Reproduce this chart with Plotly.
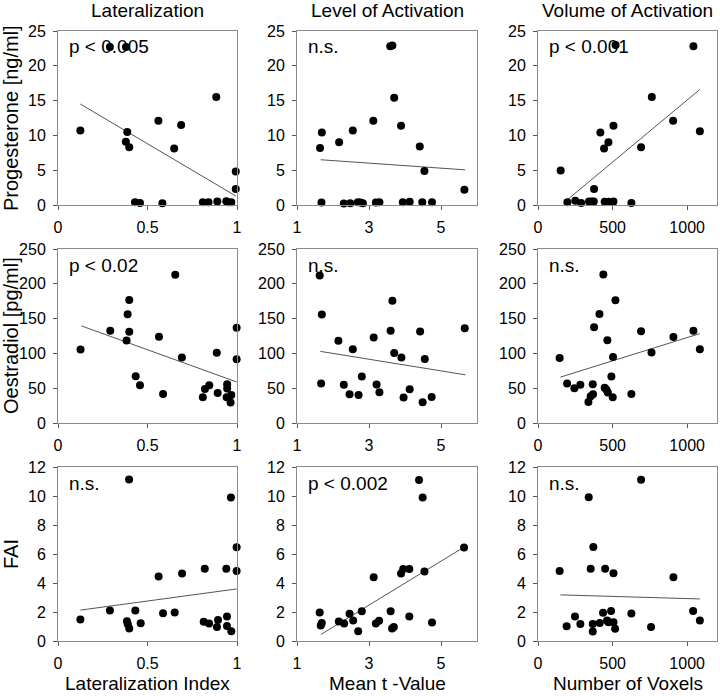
import plotly.graph_objects as go
from plotly.subplots import make_subplots

# column x-variables / row y-variables
col_titles = ["Lateralization", "Level of Activation", "Volume of Activation"]
x_titles = ["Lateralization Index", "Mean t -Value", "Number of Voxels"]
y_titles = ["Progesterone [ng/ml]", "Oestradiol [pg/ml]", "FAI"]
p_labels = [["p < 0.005", "n.s.", "p < 0.001"],
            ["p < 0.02", "n.s.", "n.s."],
            ["n.s.", "p < 0.002", "n.s."]]

# row 1: progesterone
lat_prog_x = [0.125, 0.29, 0.38, 0.379, 0.387, 0.398, 0.43, 0.458, 0.561, 0.583, 0.649, 0.688,
              0.809, 0.841, 0.884, 0.89, 0.94, 0.95, 0.968, 0.993, 0.993]
lat_prog_y = [10.7, 22.7, 22.7, 9.1, 10.5, 8.3, 0.4, 0.3, 12.1, 0.25, 8.1, 11.5,
              0.4, 0.4, 15.5, 0.5, 0.55, 0.4, 0.4, 4.8, 2.3]
t_prog_x = [1.64, 1.69, 1.68, 2.17, 2.3, 2.48, 2.55, 2.69, 2.76, 2.83, 3.12, 3.19, 3.29,
            3.59, 3.65, 3.70, 3.89, 3.94, 4.13, 4.41, 4.48, 4.54, 4.75, 5.65]
t_prog_y = [8.2, 10.4, 0.35, 9.0, 0.2, 0.25, 10.7, 0.4, 0.35, 0.25, 12.1, 0.35, 0.4,
            22.8, 22.9, 15.4, 11.4, 0.4, 0.45, 8.4, 0.4, 4.9, 0.4, 2.2]
vox_prog_x = [152, 197, 250, 289, 342, 360, 374, 376, 418, 443, 447, 472, 474, 506, 506,
              520, 626, 691, 763, 906, 1042, 1085]
vox_prog_y = [4.95, 0.4, 0.6, 0.3, 0.5, 0.5, 0.5, 2.3, 10.4, 8.1, 0.45, 9.0, 0.45, 11.4, 0.5,
              23.0, 0.3, 8.3, 15.5, 12.1, 22.8, 10.6]

# row 2: oestradiol
lat_oes_x = [0.126, 0.292, 0.383, 0.389, 0.398, 0.398, 0.434, 0.458, 0.564, 0.587, 0.655, 0.692,
             0.809, 0.821, 0.845, 0.887, 0.892, 0.942, 0.945, 0.945, 0.968, 0.964, 0.998, 0.998]
lat_oes_y = [105.6, 132.5, 118.5, 156.4, 176.6, 131, 67.2, 54.2, 123.8, 41.7, 213, 94,
             37, 49, 54.2, 100.8, 43.2, 37, 55.7, 49.4, 40.3, 29.3, 136.8, 91.6]
t_oes_x = [1.63, 1.69, 1.67, 2.15, 2.30, 2.46, 2.55, 2.71, 2.80, 3.13, 3.21, 3.29,
           3.60, 3.65, 3.70, 3.90, 3.96, 4.13, 4.42, 4.49, 4.55, 4.74, 5.66]
t_oes_y = [212, 156, 56.7, 118.3, 54.8, 41.3, 105.8, 40.4, 66.8, 123, 55.3, 44.2,
           132.7, 175.5, 100.5, 94.2, 36.5, 48.6, 131.3, 29.8, 91.8, 37.5, 136]
vox_oes_x = [145, 195, 244, 284, 338, 353, 367, 369, 376, 412, 438, 447, 459, 465, 468,
             492, 501, 503, 519, 626, 691, 761, 908, 1042, 1085]
vox_oes_y = [93.3, 56.7, 50, 54.8, 30.3, 38.5, 55.8, 41.3, 137.5, 156.7, 213.5, 50.5, 47.6, 118.8, 43.8,
             66.8, 37, 94.7, 176.4, 41.8, 131.7, 101.4, 123.6, 132.7, 105.8]

# row 3: FAI
lat_fai_x = [0.125, 0.29, 0.385, 0.39, 0.397, 0.398, 0.432, 0.462, 0.562, 0.587, 0.652, 0.693,
             0.814, 0.82, 0.844, 0.888, 0.894, 0.94, 0.944, 0.944, 0.966, 0.968, 0.998, 0.998]
lat_fai_y = [1.48, 2.1, 1.37, 1.16, 11.14, 0.86, 2.1, 1.23, 4.45, 1.92, 1.97, 4.66,
             1.32, 4.98, 1.2, 0.97, 1.44, 4.98, 1.69, 1.04, 9.89, 0.67, 6.46, 4.82]
t_fai_x = [1.63, 1.66, 1.69, 2.16, 2.31, 2.46, 2.56, 2.70, 2.80, 3.13, 3.19, 3.28,
           3.60, 3.64, 3.69, 3.89, 3.95, 4.12, 4.12, 4.39, 4.49, 4.54, 4.75, 5.64]
t_fai_y = [1.97, 1.07, 1.25, 1.34, 1.2, 1.88, 1.41, 0.67, 2.06, 4.4, 1.2, 1.39,
           2.06, 0.86, 0.97, 4.66, 4.96, 4.96, 1.69, 11.1, 9.89, 4.8, 1.27, 6.44]
vox_fai_x = [145, 192, 248, 284, 340, 353, 367, 367, 371, 414, 436, 450, 463, 472, 490,
             506, 506, 517, 626, 691, 758, 908, 1040, 1085]
vox_fai_y = [4.83, 1.02, 1.69, 1.18, 9.91, 4.99, 1.18, 0.65, 6.48, 1.25, 1.95, 4.99, 1.42, 1.3, 2.07,
             4.67, 1.3, 0.84, 1.9, 11.12, 0.97, 4.39, 2.07, 1.42]

# regression line end points
fit_lat_prog = ([0.125, 0.993], [14.5, 1.3])
fit_t_prog = ([1.66, 5.67], [6.5, 5.05])
fit_vox_prog = ([174, 1085], [0.35, 16.6])
fit_lat_oes = ([0.13, 0.998], [139.6, 59])
fit_t_oes = ([1.65, 5.68], [102.9, 69.2])
fit_vox_oes = ([150, 1085], [65.9, 128.4])
fit_lat_fai = ([0.125, 0.998], [2.13, 3.59])
fit_t_fai = ([1.67, 5.65], [0.46, 6.49])
fit_vox_fai = ([150, 1085], [3.18, 2.9])

x_ranges = [[0, 1], [1, 6], [0, 1200]]
x_ticks = [[0, 0.5, 1], [1, 3, 5], [0, 500, 1000]]
y_ranges = [[0, 25], [0, 250], [0, 12]]
y_dticks = [5, 50, 2]

points = [[(lat_prog_x, lat_prog_y), (t_prog_x, t_prog_y), (vox_prog_x, vox_prog_y)],
          [(lat_oes_x, lat_oes_y), (t_oes_x, t_oes_y), (vox_oes_x, vox_oes_y)],
          [(lat_fai_x, lat_fai_y), (t_fai_x, t_fai_y), (vox_fai_x, vox_fai_y)]]
fits = [[fit_lat_prog, fit_t_prog, fit_vox_prog],
        [fit_lat_oes, fit_t_oes, fit_vox_oes],
        [fit_lat_fai, fit_t_fai, fit_vox_fai]]

W, H = 720, 696
col_px = [(58, 237), (297, 477), (538, 717)]
row_px = [(31, 205), (249, 423), (467, 641)]
FONT = "Arial, Liberation Sans, sans-serif"

fig = make_subplots(rows=3, cols=3)

for r in range(3):
    for c in range(3):
        px, py = points[r][c]
        fx, fy = fits[r][c]
        fig.add_trace(go.Scatter(x=fx, y=fy, mode="lines", line=dict(color="#555555", width=1),
                                 showlegend=False, hoverinfo="skip"), row=r + 1, col=c + 1)
        fig.add_trace(go.Scatter(x=px, y=py, mode="markers", cliponaxis=False,
                                 marker=dict(color="black", size=8), showlegend=False),
                      row=r + 1, col=c + 1)
        fig.update_xaxes(domain=[col_px[c][0] / W, col_px[c][1] / W], range=x_ranges[c],
                         tickvals=x_ticks[c], row=r + 1, col=c + 1)
        fig.update_yaxes(domain=[1 - row_px[r][1] / H, 1 - row_px[r][0] / H], range=y_ranges[r],
                         tick0=0, dtick=y_dticks[r], row=r + 1, col=c + 1)
        n = r * 3 + c + 1
        suffix = "" if n == 1 else str(n)
        fig.add_annotation(text=p_labels[r][c], xref=f"x{suffix} domain", yref=f"y{suffix} domain",
                           x=9 / 179, y=1 - 16 / 174, xanchor="left", yanchor="middle",
                           showarrow=False, font=dict(size=19, color="black", family=FONT))

axis_style = dict(showgrid=False, zeroline=False, showline=True, linecolor="#8a8a8a", linewidth=1,
                  mirror=True, ticks="outside", ticklen=4, tickcolor="#555555", automargin=False,
                  tickfont=dict(size=16, color="black", family=FONT))
fig.update_xaxes(ticklabelstandoff=4, **axis_style)
fig.update_yaxes(ticklabelstandoff=4, **axis_style)

# column titles
for c, t in enumerate(col_titles):
    fig.add_annotation(text=t, xref="paper", yref="paper", x=(col_px[c][0] + col_px[c][1]) / 2 / W,
                       y=1 - 11 / H, xanchor="center", yanchor="middle", showarrow=False,
                       font=dict(size=19, color="black", family=FONT))
# x axis titles
for c, t in enumerate(x_titles):
    fig.add_annotation(text=t, xref="paper", yref="paper", x=(col_px[c][0] + col_px[c][1]) / 2 / W,
                       y=1 - 683 / H, xanchor="center", yanchor="middle", showarrow=False,
                       font=dict(size=19, color="black", family=FONT))
# y axis titles
for r, t in enumerate(y_titles):
    fig.add_annotation(text=t, xref="paper", yref="paper", x=11 / W,
                       y=1 - (row_px[r][0] + row_px[r][1]) / 2 / H, xanchor="center", yanchor="middle",
                       textangle=-90, showarrow=False, font=dict(size=20, color="black", family=FONT))

fig.update_layout(width=W, height=H, margin=dict(l=0, r=0, t=0, b=0, autoexpand=False),
                  paper_bgcolor="white", plot_bgcolor="white", font=dict(family=FONT))

# drop the browser's default 8px body margin so the figure sits at the page origin
fig.write_html("out.html", config={"displayModeBar": False},
               post_script="document.body.style.margin='0';")
